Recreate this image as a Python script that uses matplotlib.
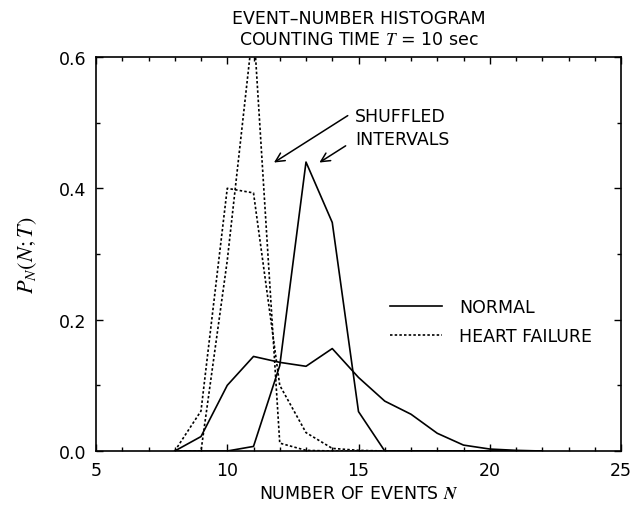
import matplotlib
matplotlib.use('Agg')

import matplotlib.pyplot as plt
from matplotlib.ticker import MultipleLocator

# number of events N
n_events = [8, 9, 10, 11, 12, 13, 14, 15, 16, 17, 18, 19, 20, 21, 22]

# normal subject, original and shuffled intervals
normal = [0.0, 0.022, 0.100, 0.144, 0.135, 0.129, 0.156, 0.112, 0.076, 0.056, 0.027, 0.009, 0.003, 0.001, 0.0]
normal_shuffled = [0.0, 0.0, 0.0, 0.007, 0.130, 0.440, 0.348, 0.060, 0.0, 0.0, 0.0, 0.0, 0.0, 0.0, 0.0]

# heart failure subject, original and shuffled intervals
heart_failure = [0.0, 0.061, 0.400, 0.393, 0.100, 0.028, 0.004, 0.001, 0.0, 0.0, 0.0, 0.0, 0.0, 0.0, 0.0]
heart_failure_shuffled = [0.0, 0.0, 0.290, 0.650, 0.012, 0.001, 0.0, 0.0, 0.0, 0.0, 0.0, 0.0, 0.0, 0.0, 0.0]

plt.rcParams['font.family'] = 'DejaVu Sans'
fs = 12.5
dotted = (0, (1.5, 1.3))

fig = plt.figure(figsize=(6.32, 5.06), dpi=100)
ax = fig.add_axes([0.1519, 0.1067, 0.8307, 0.7787])

ax.plot(n_events, normal, color='black', lw=1.2, label='NORMAL')
ax.plot(n_events, normal_shuffled, color='black', lw=1.2)
ax.plot(n_events, heart_failure, color='black', lw=1.2, linestyle=dotted, label='HEART FAILURE')
ax.plot(n_events, heart_failure_shuffled, color='black', lw=1.2, linestyle=dotted)

ax.set_xlim(5, 25)
ax.set_ylim(0, 0.6)
ax.xaxis.set_major_locator(MultipleLocator(5))
ax.xaxis.set_minor_locator(MultipleLocator(1))
ax.yaxis.set_major_locator(MultipleLocator(0.2))
ax.yaxis.set_minor_locator(MultipleLocator(0.1))
ax.yaxis.set_major_formatter(plt.FormatStrFormatter('%.1f'))
ax.tick_params(which='both', direction='in', top=True, right=True, labelsize=fs, width=1.0)
ax.tick_params(which='major', length=5, pad=7)
ax.tick_params(which='minor', length=3)
for sp in ax.spines.values():
    sp.set_linewidth(1.2)

ax.set_xlabel(r'NUMBER OF EVENTS $\mathbfit{N}$', fontsize=fs, math_fontfamily='stix', labelpad=4)
ax.set_ylabel(r'$P_N(N;T)$', fontsize=16, math_fontfamily='stix', labelpad=14)

ax.set_title('EVENT\u2013NUMBER HISTOGRAM\nCOUNTING TIME $T$ = 10 sec', fontsize=fs,
             math_fontfamily='stix', linespacing=1.25, pad=9)

# arrows pointing at the shuffled-interval curves
ax.annotate('', xy=(11.69, 0.437), xytext=(14.68, 0.513),
            arrowprops=dict(arrowstyle='->', color='black', lw=1.1, mutation_scale=16))
ax.annotate('', xy=(13.42, 0.437), xytext=(14.60, 0.467),
            arrowprops=dict(arrowstyle='->', color='black', lw=1.1, mutation_scale=16))
ax.text(14.87, 0.492, 'SHUFFLED\nINTERVALS', fontsize=fs, ha='left', va='center', linespacing=1.35)

ax.legend(loc='center left', bbox_to_anchor=(0.56, 0.329), frameon=False, fontsize=fs,
          handlelength=3.0, handletextpad=1.0, labelspacing=0.65, borderpad=0, borderaxespad=0)

fig.savefig('out.png', dpi=100)
